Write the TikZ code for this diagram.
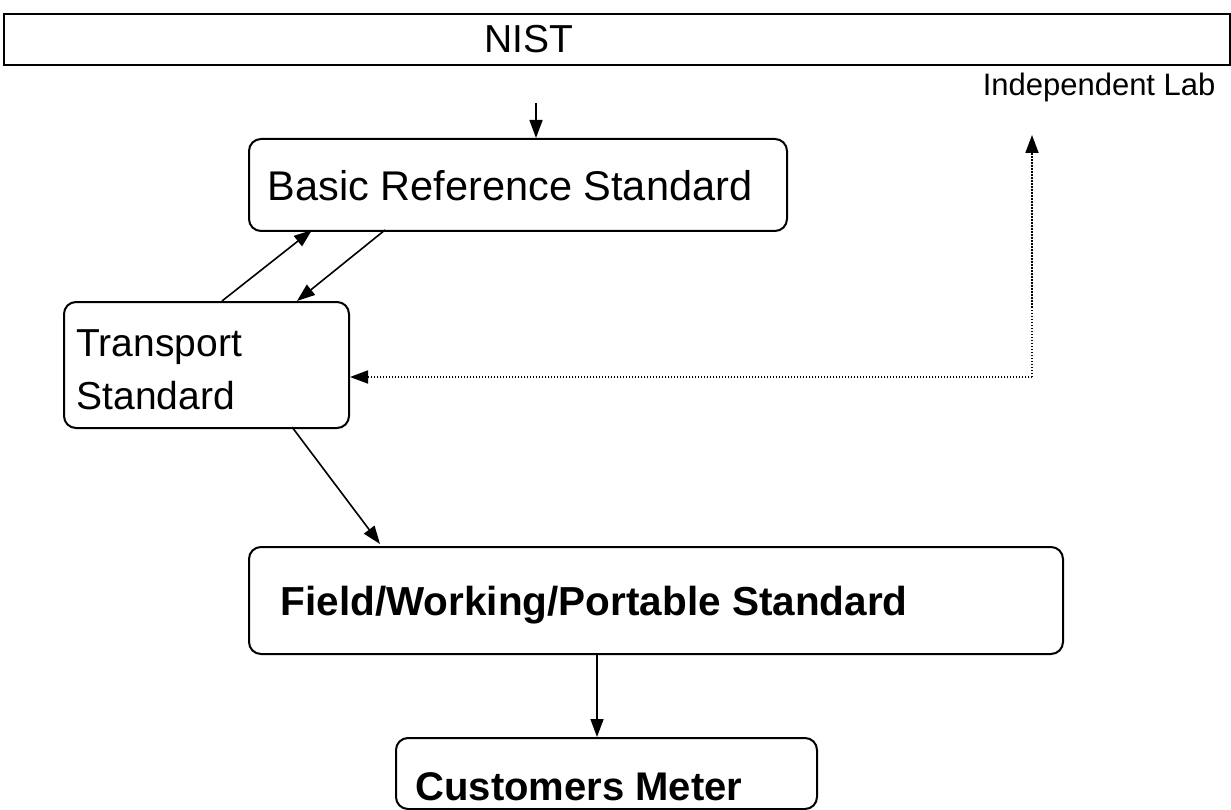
\documentclass[tikz,border=0pt]{standalone}
\usepackage{fontspec}
\setmainfont{Liberation Sans}
\usetikzlibrary{arrows.meta}
\begin{document}
\begin{tikzpicture}[x=1pt,y=-1pt,
  box/.style={draw,line width=2pt,rounded corners=12pt,inner sep=0pt},
  conn/.style={line width=1.6pt,-{Triangle[length=18pt,width=13pt]}},
  dotconn/.style={line width=1.8pt,dash pattern=on 1.5pt off 1.5pt,-{Triangle[length=18pt,width=13pt]}}
]
\useasboundingbox (0,0) rectangle (1231,810);
% NIST
\node[draw,line width=2pt,inner sep=0pt,minimum width=1226pt,minimum height=51pt,anchor=north west] (nist) at (3,13) {};
\node[font=\fontsize{39}{46}\selectfont,anchor=base] (nisttxt) at (529,53) {NIST};
\node[font=\fontsize{31}{36}\selectfont,anchor=base east] (indlab) at (1219,96) {Independent Lab};
% Basic Reference Standard
\node[box,minimum width=538pt,minimum height=92pt,anchor=north west] (basic) at (248,138) {};
\node[font=\fontsize{41.5}{48}\selectfont,anchor=base] (basictxt) at (510,201) {Basic Reference Standard};
% Transport Standard
\node[box,minimum width=285pt,minimum height=126pt,anchor=north west] (trans) at (63,301) {};
\node[font=\fontsize{39}{53}\selectfont,anchor=base west,align=left,text width=260pt] (transtxt) at (73,356) {Transport\\Standard};
% Field
\node[box,minimum width=814pt,minimum height=107pt,anchor=north west] (field) at (248,546) {};
\node[font=\bfseries\fontsize{40.5}{48}\selectfont,anchor=base west] (fieldtxt) at (277,615) {Field/Working/Portable Standard};
% Customers
\node[box,minimum width=421pt,minimum height=71pt,anchor=north west] (cust) at (395,737) {};
\node[font=\bfseries\fontsize{40}{48}\selectfont,anchor=base west] (custtxt) at (412,800) {Customers Meter};
% connectors
\coordinate (nistout) at (536,103);
\draw[conn] (nistout) -- (nistout |- basic.north);
\coordinate (t1) at (222,301);
\coordinate (b1) at (312,230);
\draw[conn] (t1) -- (b1);
\coordinate (b2) at (385,230);
\coordinate (t2) at (297,301);
\draw[conn] (b2) -- (t2);
\coordinate (t3) at (292,427);
\coordinate (f1) at (380,544);
\draw[conn] (t3) -- (f1);
\coordinate (fout) at (597,653);
\draw[conn] (fout) -- (fout |- cust.north);
\coordinate (corner) at (1032,377);
\coordinate (labin) at (1032,135);
\draw[dotconn] (corner) -- (labin);
\draw[dotconn] (corner) -- (corner -| trans.east);
\end{tikzpicture}
\end{document}
